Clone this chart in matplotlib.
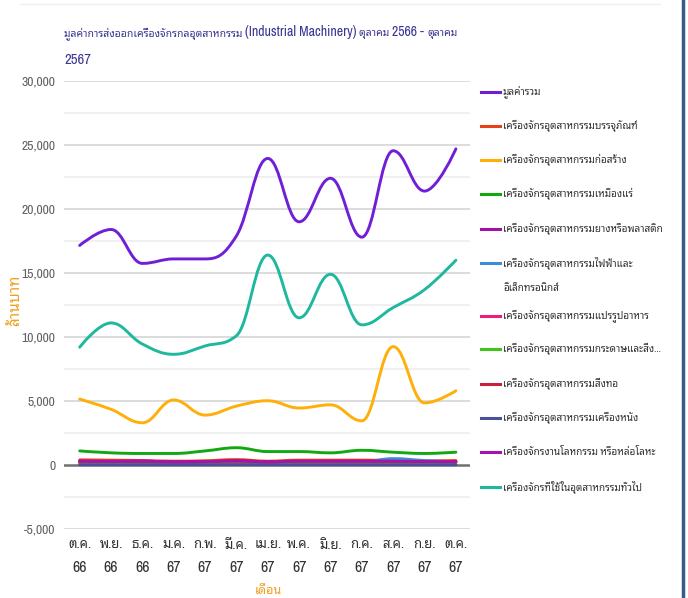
import matplotlib
matplotlib.use('Agg')
import matplotlib.pyplot as plt
from matplotlib.path import Path
from matplotlib.patches import PathPatch
from matplotlib.lines import Line2D
import numpy as np

FAM = ['Archivo Narrow', 'Noto Sans Thai Looped', 'DejaVu Sans']
plt.rcParams['font.family'] = FAM

months = ['ต.ค.', 'พ.ย.', 'ธ.ค.', 'ม.ค.', 'ก.พ.', 'มี.ค.', 'เม.ย.', 'พ.ค.', 'มิ.ย.', 'ก.ค.',
          'ส.ค.', 'ก.ย.', 'ต.ค.']
years = ['66', '66', '66', '67', '67', '67', '67', '67', '67', '67', '67', '67', '67']

total        = [17150, 18400, 15750, 16100, 16100, 17900, 23950, 19000, 22400, 17800, 24550, 21400, 24700]
packaging    = [400, 380, 350, 300, 330, 420, 300, 380, 380, 380, 350, 320, 350]
construction = [5150, 4350, 3300, 5080, 3900, 4600, 5020, 4450, 4700, 3450, 9250, 4850, 5800]
mining       = [1100, 950, 900, 900, 1100, 1350, 1050, 1050, 950, 1150, 1000, 900, 1000]
rubber       = [250, 280, 300, 230, 250, 300, 220, 280, 260, 270, 300, 250, 230]
electrical   = [100, 100, 120, 100, 120, 150, 120, 130, 150, 200, 500, 350, 250]
food         = [200, 180, 200, 150, 170, 250, 180, 200, 200, 190, 180, 170, 180]
paper        = [50, 50, 40, 40, 50, 60, 50, 60, 50, 50, 50, 40, 50]
textile      = [300, 280, 260, 250, 260, 350, 250, 300, 300, 320, 280, 260, 280]
leather      = [20, 20, 20, 20, 20, 25, 20, 20, 20, 20, 20, 20, 20]
metalwork    = [300, 290, 300, 240, 260, 320, 240, 300, 300, 300, 300, 280, 250]
general      = [9200, 11100, 9450, 8650, 9300, 10100, 16400, 11500, 14900, 10950, 12300, 13700, 16000]

labels = ['มูลค่ารวม', 'เครื่องจักรอุตสาหกรรมบรรจุภัณฑ์', 'เครื่องจักรอุตสาหกรรมก่อสร้าง',
          'เครื่องจักรอุตสาหกรรมเหมืองแร่', 'เครื่องจักรอุตสาหกรรมยางหรือพลาสติก',
          'เครื่องจักรอุตสาหกรรมไฟฟ้าและ\nอิเล็กทรอนิกส์', 'เครื่องจักรอุตสาหกรรมแปรรูปอาหาร',
          'เครื่องจักรอุตสาหกรรมกระดาษและสิ่ง...', 'เครื่องจักรอุตสาหกรรมสิ่งทอ',
          'เครื่องจักรอุตสาหกรรมเครื่องหนัง', 'เครื่องจักรงานโลหกรรม หรือหล่อโลหะ',
          'เครื่องจักรที่ใช้ในอุตสาหกรรมทั่วไป']
colors = ['#6f1fd6', '#e64219', '#ffae0a', '#12a812', '#a312a8', '#3c8fd6', '#ee1a7e',
          '#3fc41a', '#c8203a', '#4b4f9c', '#a612ad', '#1db89e']
series = [total, packaging, construction, mining, rubber, electrical, food, paper,
          textile, leather, metalwork, general]

title_lines = ['มูลค่าการส่งออกเครื่องจักรกลอุตสาหกรรม (Industrial Machinery) ตุลาคม 2566 - ตุลาคม',
               '2567']
y_label = 'ล้านบาท'
x_label = 'เดือน'


def spline_path(xs, ys, smoothing=1.5):
    n = len(xs)
    lc = [None] * n
    rc = [None] * n
    denom = smoothing + 1
    for i in range(1, n - 1):
        px, py = xs[i], ys[i]
        lx, ly = xs[i - 1], ys[i - 1]
        nx, ny = xs[i + 1], ys[i + 1]
        lcx = (smoothing * px + lx) / denom
        lcy = (smoothing * py + ly) / denom
        rcx = (smoothing * px + nx) / denom
        rcy = (smoothing * py + ny) / denom
        corr = ((rcy - lcy) * (rcx - px)) / (rcx - lcx) + py - rcy
        lcy += corr
        rcy += corr
        if lcy > ly and lcy > py:
            lcy = max(ly, py); rcy = 2 * py - lcy
        elif lcy < ly and lcy < py:
            lcy = min(ly, py); rcy = 2 * py - lcy
        if rcy > ny and rcy > py:
            rcy = max(ny, py); lcy = 2 * py - rcy
        elif rcy < ny and rcy < py:
            rcy = min(ny, py); lcy = 2 * py - rcy
        lc[i] = (lcx, lcy)
        rc[i] = (rcx, rcy)
    verts = [(xs[0], ys[0])]
    codes = [Path.MOVETO]
    for i in range(1, n):
        c1 = rc[i - 1] if rc[i - 1] is not None else (xs[i - 1], ys[i - 1])
        c2 = lc[i] if lc[i] is not None else (xs[i], ys[i])
        verts += [c1, c2, (xs[i], ys[i])]
        codes += [Path.CURVE4] * 3
    return Path(verts, codes)


def is_thai(ch):
    return 0x0E00 <= ord(ch) <= 0x0E7F


def split_runs(s):
    runs = []
    cur = ''
    cur_t = None
    for ch in s:
        t = is_thai(ch) if ch != ' ' else cur_t
        if cur_t is None or t == cur_t:
            cur += ch
            cur_t = t
        else:
            runs.append((cur, cur_t))
            cur = ch
            cur_t = t
    if cur:
        runs.append((cur, cur_t))
    return runs


W, H = 688, 598
fig = plt.figure(figsize=(W / 100, H / 100), dpi=100)
fig.patch.set_facecolor('white')
renderer = fig.canvas.get_renderer()


def mixed_text(x_px, y_px, s, thai_size, latin_size, **kw):
    xp = x_px
    for run, thai in split_runs(s):
        t = fig.text(xp / W, 1 - y_px / H, run, fontsize=thai_size if thai else latin_size,
                     ha='left', va='baseline', **kw)
        xp += t.get_window_extent(renderer).width


ax = fig.add_axes([64 / W, 1 - 529 / H, (470 - 64) / W, (529 - 81) / H])
ax.set_xlim(-0.5, 12.45)
ax.set_ylim(-5000, 30000)
for s in ax.spines.values():
    s.set_visible(False)

major = np.arange(-5000, 30001, 5000)
minor = np.arange(-2500, 30000, 5000)
ax.set_yticks(major)
ax.set_yticklabels([f'{v:,}' for v in major])
ax.tick_params(axis='y', length=0, pad=6, labelsize=9.8, labelcolor='#606060')
for v in major:
    if v != 0:
        ax.axhline(v, color='#d5d5d5', lw=1.2, zorder=0)
for v in minor:
    ax.axhline(v, color='#eeeeee', lw=1.2, zorder=0)
ax.axhline(0, color='#707070', lw=1.8, zorder=1)

x = np.arange(len(months))
ax.xaxis.remove_overlapping_locs = False
ax.set_xticks(x)
ax.set_xticklabels(months)
ax.set_xticks(x, minor=True)
ax.set_xticklabels(years, minor=True)
ax.tick_params(axis='x', which='major', length=0, pad=7, labelsize=9.5, labelcolor='#333333')
ax.tick_params(axis='x', which='minor', length=0, pad=22, labelsize=11.5, labelcolor='#333333')

for i, (ys, c) in enumerate(zip(series, colors)):
    p = spline_path(list(x.astype(float)), [float(v) for v in ys])
    ax.add_patch(PathPatch(p, facecolor='none', edgecolor=c, lw=2.1, zorder=2 + i,
                           capstyle='round', joinstyle='round'))

fig.text(15 / W, 1 - 300 / H, y_label, rotation=90, color='#f0a020', fontsize=11,
         fontweight='bold', style='italic', ha='center', va='center')
fig.text(268 / W, 1 - 590 / H, x_label, color='#f0a020', fontsize=9,
         style='italic', ha='center', va='center')

mixed_text(64, 36, title_lines[0], 7.5, 10, color='#3a3591', fontweight='bold')
mixed_text(64, 64, title_lines[1], 7.5, 10.5, color='#3a3591', fontweight='bold')

# legend
ypos = [92, 126, 160, 194, 229, 263, 316, 349, 384, 418, 452, 487]
for lab, c, yy in zip(labels, colors, ypos):
    fy = 1 - yy / H
    fig.add_artist(Line2D([481 / W, 500 / W], [fy, fy], color=c, lw=2.2, transform=fig.transFigure))
    fig.text(503 / W, fy, lab.split('\n')[0], color='#333333', fontsize=7.2, ha='left', va='center')
    if '\n' in lab:
        fig.text(503 / W, 1 - (yy + 25) / H, lab.split('\n')[1], color='#333333', fontsize=7.2,
                 ha='left', va='center')

fig.add_artist(Line2D([683 / W, 683 / W], [0, 1], color='#3b5a8c', lw=2.5, transform=fig.transFigure))
fig.add_artist(Line2D([20 / W, 660 / W], [1 - 4 / H, 1 - 4 / H], color='#f0f0f0', lw=1, transform=fig.transFigure))

fig.savefig('out.png', dpi=100)
